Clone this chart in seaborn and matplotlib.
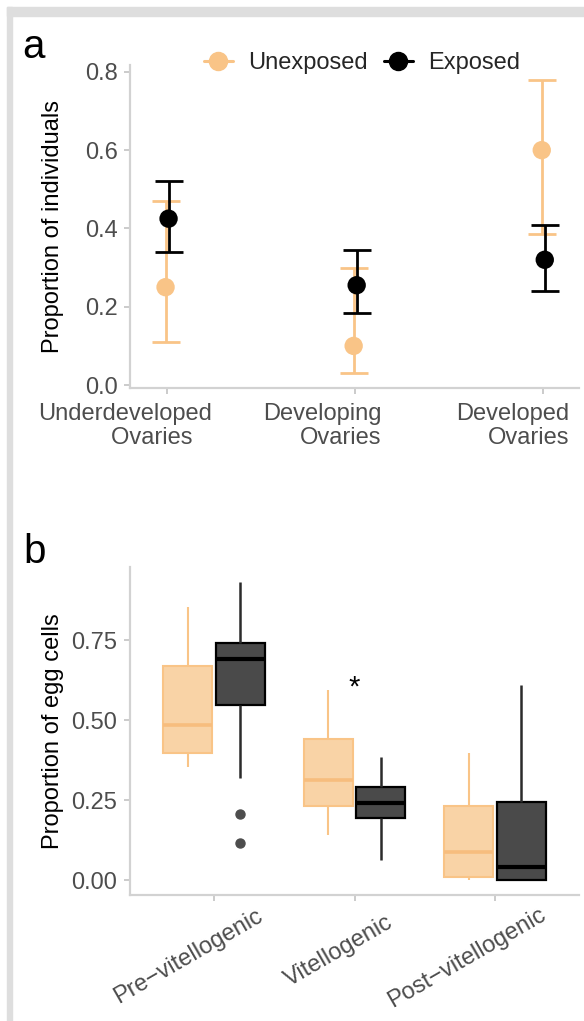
import numpy as np
import pandas as pd
import matplotlib
matplotlib.use("Agg")
import matplotlib.pyplot as plt
import seaborn as sns
from matplotlib.transforms import ScaledTranslation
from matplotlib.lines import Line2D
from matplotlib.patches import Rectangle

# ---------------- Panel a data ----------------
ovary_stages = ["Underdeveloped\nOvaries   ", "Developing\nOvaries", "Developed\nOvaries"]
groups = ["Unexposed", "Exposed"]
unexposed_prop = [0.25, 0.10, 0.60]
unexposed_lo = [0.11, 0.03, 0.385]
unexposed_hi = [0.47, 0.30, 0.78]
exposed_prop = [0.425, 0.255, 0.32]
exposed_lo = [0.34, 0.185, 0.24]
exposed_hi = [0.52, 0.345, 0.41]
a_yticks = [0.0, 0.2, 0.4, 0.6, 0.8]

# ---------------- Panel b data ----------------
egg_stages = ["Pre\u2212vitellogenic", "Vitellogenic", "Post\u2212vitellogenic"]
unexp_whisker_lo = [0.355, 0.142, 0.0]
unexp_q1 = [0.396, 0.231, 0.0105]
unexp_median = [0.485, 0.313, 0.089]
unexp_q3 = [0.669, 0.441, 0.233]
unexp_whisker_hi = [0.854, 0.593, 0.397]
unexp_outliers = [[], [], []]
exp_whisker_lo = [0.320, 0.063, 0.0]
exp_q1 = [0.548, 0.194, 0.0]
exp_median = [0.690, 0.240, 0.040]
exp_q3 = [0.741, 0.291, 0.245]
exp_whisker_hi = [0.932, 0.386, 0.610]
exp_outliers = [[0.207, 0.116], [], []]
signif_stage = "Vitellogenic"
signif_y = 0.617
b_yticks = [0.0, 0.25, 0.50, 0.75]

ORANGE = "#F9C487"
ORANGE_FILL = "#F9D3A6"
ORANGE_MED = "#F7BD7E"
DARK_FILL = "#4A4A4A"
TICK_TXT = "#4D4D4D"
AXIS_GRAY = "#D2D2D2"

sns.set_theme(style="white")
plt.rcParams["font.family"] = ["Liberation Sans", "DejaVu Sans"]

W, H, DPI = 584, 1021, 100
fig = plt.figure(figsize=(W / DPI, H / DPI), dpi=DPI)
fig.patch.set_facecolor("white")

# grey frame (top and left)
fig.patches.append(Rectangle((7 / W, 1 - 16 / H), 1 - 7 / W, 9 / H,
                             transform=fig.transFigure, color="#DEDEDE", zorder=0))
fig.patches.append(Rectangle((7 / W, 0), 5 / W, 1 - 7 / H,
                             transform=fig.transFigure, color="#DEDEDE", zorder=0))

def px_axes(left, top, right, bottom):
    return fig.add_axes([left / W, 1 - bottom / H, (right - left) / W, (bottom - top) / H])

axa = px_axes(130, 65, 579, 388)
axb = px_axes(130, 567, 579, 895)

def style_axes(ax):
    ax.set_facecolor("none")
    for s in ["top", "right"]:
        ax.spines[s].set_visible(False)
    for s in ["left", "bottom"]:
        ax.spines[s].set_color(AXIS_GRAY)
        ax.spines[s].set_linewidth(1.6)
    ax.tick_params(axis="both", which="major", length=4, width=1.1, color="#BDBDBD",
                   labelsize=17, labelcolor=TICK_TXT, pad=5, left=True, bottom=True)

# ---------------- Panel a ----------------
n = len(ovary_stages)
dodge = 0.008
rows = []
for i in range(n):
    rows.append(dict(pos=i - dodge, prop=unexposed_prop[i], lo=unexposed_lo[i],
                     hi=unexposed_hi[i], group="Unexposed"))
for i in range(n):
    rows.append(dict(pos=i + dodge, prop=exposed_prop[i], lo=exposed_lo[i],
                     hi=exposed_hi[i], group="Exposed"))
df_a = pd.DataFrame(rows)
pal = {"Unexposed": ORANGE, "Exposed": "black"}

for g, z in [("Unexposed", 2), ("Exposed", 3)]:
    d = df_a[df_a.group == g]
    axa.errorbar(d["pos"], d["prop"], yerr=[d["prop"] - d["lo"], d["hi"] - d["prop"]],
                 fmt="none", ecolor=pal[g], elinewidth=2.0, capsize=10, capthick=2.0, zorder=z)
sns.scatterplot(data=df_a, x="pos", y="prop", hue="group", hue_order=groups, palette=pal,
                s=175, linewidth=0, legend=False, ax=axa, zorder=5)

style_axes(axa)
axa.set_xlim(-0.197, 2.19)
axa.set_ylim(-0.0075, 0.8175)
axa.set_yticks(a_yticks)
axa.set_yticklabels([f"{v:.1f}" for v in a_yticks])
axa.set_xticks(range(n))
axa.set_xticklabels(ovary_stages, ha="right", multialignment="right", linespacing=1.12)
axa.tick_params(axis="x", pad=7)
axa.set_xlabel("")
axa.set_ylabel("Proportion of individuals", fontsize=17, color="black")
axa.yaxis.set_label_coords(-0.147, 0.5)

handles = [Line2D([0], [0], color=pal[g], marker="o", markersize=13, lw=2.2) for g in groups]
fig.legend(handles, groups, loc="center", bbox_to_anchor=(362 / W, 1 - 63 / H), ncol=2,
           frameon=False, fontsize=17, handlelength=1.2, handletextpad=0.64,
           columnspacing=0.72, borderpad=0, borderaxespad=0)

# ---------------- Panel b ----------------
def build_sample(wlo, q1, med, q3, whi, outl):
    low = sorted(outl) + [wlo]
    a = len(low)
    return low + [q1] * a + [med] + [q3] * a + [whi] * a

rows = []
for i, st in enumerate(egg_stages):
    for v in build_sample(unexp_whisker_lo[i], unexp_q1[i], unexp_median[i], unexp_q3[i],
                          unexp_whisker_hi[i], unexp_outliers[i]):
        rows.append(dict(stage=st, group="Unexposed", value=v))
    for v in build_sample(exp_whisker_lo[i], exp_q1[i], exp_median[i], exp_q3[i],
                          exp_whisker_hi[i], exp_outliers[i]):
        rows.append(dict(stage=st, group="Exposed", value=v))
df_b = pd.DataFrame(rows)

sns.boxplot(data=df_b, x="stage", y="value", hue="group", order=egg_stages, hue_order=groups,
            palette={"Unexposed": ORANGE_FILL, "Exposed": DARK_FILL}, saturation=1,
            width=0.75, gap=0.07, showcaps=False, whis=1.5, linewidth=1.5,
            flierprops=dict(marker="o", markersize=6.5, markerfacecolor="#4D4D4D",
                            markeredgecolor="#4D4D4D"),
            legend=False, ax=axb)

cont_u, cont_e = axb.containers[0], axb.containers[1]
for b in cont_u.boxes:
    b.set_edgecolor(ORANGE); b.set_linewidth(1.5)
for w in cont_u.whiskers:
    w.set_color(ORANGE); w.set_linewidth(1.5)
for m in cont_u.medians:
    m.set_color(ORANGE_MED); m.set_linewidth(2.6)
for b in cont_e.boxes:
    b.set_edgecolor("black"); b.set_linewidth(1.6)
for w in cont_e.whiskers:
    w.set_color("#2B2B2B"); w.set_linewidth(1.8)
for m in cont_e.medians:
    m.set_color("black"); m.set_linewidth(3.0)

star = axb.text(egg_stages.index(signif_stage), signif_y, "*", ha="center", va="center",
                fontsize=21, color="black")
star.set_transform(star.get_transform() + ScaledTranslation(0, -5 / DPI, fig.dpi_scale_trans))

style_axes(axb)
axb.set_xlim(-0.6, 2.6)
axb.set_ylim(-0.0466, 0.9786)
axb.set_yticks(b_yticks)
axb.set_yticklabels([f"{v:.2f}" for v in b_yticks])
axb.set_xticks(range(len(egg_stages)))
axb.set_xticklabels(egg_stages, rotation=30, ha="center", va="top", rotation_mode="anchor")
axb.tick_params(axis="x", pad=19)
axb.set_xlabel("")
axb.set_ylabel("Proportion of egg cells", fontsize=17, color="black")
axb.yaxis.set_label_coords(-0.147, 0.5)

# panel letters
fig.text(22 / W, 1 - 58 / H, "a", fontsize=29, color="black", va="baseline", ha="left")
fig.text(23 / W, 1 - 563 / H, "b", fontsize=29, color="black", va="baseline", ha="left")

# label offsets
fig.canvas.draw()
r = fig.canvas.get_renderer()
a_dx = [45, 26, 26]
for lab, dx in zip(axa.get_xticklabels(), a_dx):
    lab.set_transform(lab.get_transform() + ScaledTranslation(dx / DPI, 0, fig.dpi_scale_trans))
ang = np.deg2rad(30)
for lab in axb.get_xticklabels():
    t = fig.text(0, 0, lab.get_text(), fontproperties=lab.get_fontproperties())
    L = t.get_window_extent(r).width
    t.remove()
    s = 0.24 * L
    lab.set_transform(lab.get_transform() + ScaledTranslation((4 - s * np.cos(ang)) / DPI,
                                                              -s * np.sin(ang) / DPI,
                                                              fig.dpi_scale_trans))

fig.savefig("out.png", dpi=DPI)
